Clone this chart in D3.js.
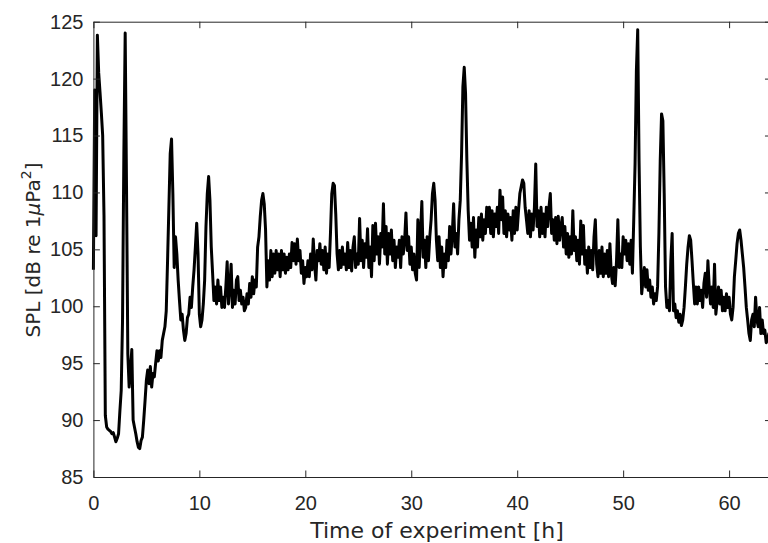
<!DOCTYPE html>
<html><head><meta charset="utf-8">
<script src="https://cdn.jsdelivr.net/npm/d3@7"></script>
<style>body{margin:0;background:#fff;overflow:hidden}</style>
</head><body>
<svg id="c" width="768" height="543"></svg>
<script>
// ---- data ----
const startHour = 0;
const stepHours = 0.125;
const splValues = [
  103.2,119.0,106.2,123.8,120.5,118.8,117.0,115.0,
  108.0,90.4,89.4,89.2,89.1,89.0,88.8,88.9,
  88.5,88.1,88.4,88.8,90.8,92.6,98.8,113.4,
  124.0,110.5,95.8,92.9,94.4,96.2,90.0,89.4,
  88.8,88.1,87.6,87.5,88.2,88.5,90.0,91.7,
  93.5,94.4,93.2,94.7,92.9,94.1,93.8,95.0,
  96.1,95.2,96.1,95.5,97.0,97.6,98.2,99.6,
  104.0,108.7,113.4,114.7,109.9,103.4,106.1,104.6,
  102.3,100.5,98.8,99.3,97.9,97.0,97.6,99.0,
  99.3,100.8,99.9,101.7,103.2,105.2,107.3,104.6,
  99.3,98.2,98.8,100.2,102.3,107.0,109.9,111.4,
  109.3,105.2,102.9,100.5,101.7,100.2,102.3,100.5,
  101.7,99.9,100.8,99.9,101.7,103.9,100.2,101.7,
  103.7,99.9,101.4,100.2,102.3,102.6,100.5,101.4,
  100.2,100.8,99.6,99.9,101.1,100.2,102.0,100.8,
  102.6,101.1,102.3,101.7,105.2,106.1,107.9,109.3,
  109.9,109.0,106.7,101.7,104.0,102.3,104.9,102.6,
  104.6,102.9,104.9,103.2,104.6,102.6,104.9,103.2,
  104.6,102.9,104.3,103.2,104.6,103.4,105.6,104.0,
  105.5,103.7,105.9,104.0,104.9,102.9,104.0,102.0,
  103.4,102.6,104.0,102.6,104.6,103.2,105.9,103.7,
  102.3,104.9,104.0,105.5,103.7,104.9,103.2,105.2,
  102.9,104.6,103.4,106.4,109.9,110.8,110.6,108.1,
  104.6,103.2,104.9,103.4,105.2,103.7,104.6,103.2,
  105.6,103.4,104.9,103.1,105.2,106.1,103.4,104.6,
  103.7,107.7,104.0,105.8,103.4,105.5,104.3,106.8,
  103.4,105.2,102.6,107.1,104.0,107.3,104.6,106.1,
  103.7,106.4,105.2,109.0,104.6,107.0,103.7,106.4,
  104.6,106.7,104.0,105.8,103.4,105.2,104.3,105.8,
  103.4,106.1,104.6,105.8,108.2,104.9,106.1,103.7,
  105.2,103.2,104.6,102.9,102.3,107.6,103.4,106.4,
  109.2,104.3,105.8,103.4,106.1,104.0,106.1,107.6,
  109.9,110.8,109.3,105.8,104.0,106.1,103.4,105.2,
  102.6,104.6,103.4,105.8,104.0,107.0,104.6,106.4,
  109.0,105.2,106.4,104.6,107.6,109.3,113.4,119.3,
  121.0,118.7,112.8,108.4,105.8,107.3,105.2,107.8,
  104.3,106.7,105.2,107.8,106.1,108.1,105.8,107.6,
  106.4,108.7,107.0,108.7,106.4,108.4,106.1,108.1,
  107.0,108.7,106.4,110.2,107.6,109.6,106.4,108.4,
  106.1,108.1,106.7,107.8,105.8,108.4,106.4,108.7,
  106.7,108.4,109.9,110.5,111.1,110.8,108.7,107.6,
  106.4,108.4,106.1,108.1,106.7,108.7,112.5,107.0,
  108.4,106.1,108.7,106.4,108.1,106.1,108.7,107.0,
  108.7,109.9,106.4,107.6,105.8,107.8,105.5,107.9,
  105.8,107.0,107.8,105.2,107.0,104.6,106.4,104.3,
  106.1,104.6,108.4,104.9,106.1,104.0,105.8,103.7,
  107.5,104.6,107.1,103.7,104.9,102.9,105.2,103.4,
  104.9,103.2,106.1,107.6,103.7,102.6,104.9,102.9,
  105.2,102.6,104.6,102.9,104.9,102.6,105.5,102.9,
  102.0,103.4,101.8,104.0,107.6,103.4,104.6,103.4,
  106.1,104.6,105.8,104.0,105.5,103.7,105.8,102.9,
  107.6,112.5,120.7,124.3,112.8,105.2,101.1,102.3,
  103.4,101.7,103.2,101.4,102.3,100.8,101.7,100.2,
  101.1,100.5,101.7,106.4,112.8,116.9,116.3,109.9,
  101.7,99.9,100.5,99.6,104.0,106.4,99.6,100.2,
  99.0,99.6,98.6,99.3,98.3,98.8,99.9,101.7,
  103.7,105.2,106.2,105.8,104.0,102.0,100.2,101.7,
  100.2,101.7,100.5,101.4,99.9,102.0,102.9,100.8,
  104.0,101.7,100.2,101.7,99.9,103.7,99.3,100.5,
  101.7,100.2,101.4,99.6,100.8,99.6,101.1,99.9,
  100.8,99.3,98.8,99.9,102.6,104.0,105.5,106.4,
  106.7,105.8,104.6,103.4,101.7,99.9,98.8,97.6,
  97.0,98.8,99.3,98.2,100.8,98.8,98.2,99.9,
  97.6,98.8,97.6,97.9,96.8,97.0,97.6,97.3,
  97.9
];
const xTicks = [0,10,20,30,40,50,60];
const yTicks = [85,90,95,100,105,110,115,120,125];
const xDomain = [0,64];
const yDomain = [85,125];

// ---- drawing ----
const svg = d3.select("#c");
const L = 93.4, T = 21.7, B = 477, R = L + 64*10.595;
const x = d3.scaleLinear().domain(xDomain).range([L, R]);
const y = d3.scaleLinear().domain(yDomain).range([B, T]);
const axisColor = "#262626";
const tick = 6.5;

const pts = splValues.map((v,i)=>({h:startHour + i*stepHours, v}));

// line
svg.append("path")
  .datum(pts)
  .attr("fill","none")
  .attr("stroke","#000")
  .attr("stroke-width",3)
  .attr("stroke-linejoin","round")
  .attr("d", d3.line().x(d=>x(d.h)).y(d=>y(d.v)));

function style(g, labels){
  g.select(".domain").attr("stroke",axisColor).attr("stroke-width",1);
  g.selectAll(".tick line").attr("stroke",axisColor).attr("stroke-width",1);
  g.selectAll(".tick text")
    .attr("fill",axisColor)
    .style("font-family","'Liberation Sans', Arial, sans-serif")
    .style("font-size","20px");
  if(!labels) g.selectAll(".tick text").remove();
}

svg.append("g").attr("transform",`translate(0,${B})`)
  .call(d3.axisBottom(x).tickValues(xTicks).tickFormat(d3.format("d"))
    .tickSizeInner(-tick).tickSizeOuter(0).tickPadding(19))
  .call(g=>style(g,true));
svg.append("g").attr("transform",`translate(0,${T})`)
  .call(d3.axisTop(x).tickValues(xTicks).tickSizeInner(-tick).tickSizeOuter(0))
  .call(g=>style(g,false));
svg.append("g").attr("transform",`translate(${L},0)`)
  .call(d3.axisLeft(y).tickValues(yTicks).tickFormat(d3.format("d"))
    .tickSizeInner(-tick).tickSizeOuter(0).tickPadding(10))
  .call(g=>style(g,true));
svg.append("g").attr("transform",`translate(${R},0)`)
  .call(d3.axisRight(y).tickValues(yTicks).tickSizeInner(-tick).tickSizeOuter(0))
  .call(g=>style(g,false));

// axis titles
svg.append("text")
  .attr("x", 437).attr("y", 538)
  .attr("text-anchor","middle")
  .attr("fill",axisColor)
  .style("font-family","'DejaVu Sans', Verdana, sans-serif")
  .style("font-size","22px")
  .text("Time of experiment [h]");

const yl = svg.append("text")
  .attr("transform","translate(40,250) rotate(-90)")
  .attr("text-anchor","middle")
  .attr("fill",axisColor)
  .style("font-family","'DejaVu Sans', Verdana, sans-serif")
  .style("font-size","20px");
yl.append("tspan").text("SPL [dB re 1");
yl.append("tspan").style("font-style","italic").text("\u03bc");
yl.append("tspan").text("Pa");
yl.append("tspan").attr("dy","-9").style("font-size","14px").text("2");
yl.append("tspan").attr("dy","9").text("]");
</script>
</body></html>
